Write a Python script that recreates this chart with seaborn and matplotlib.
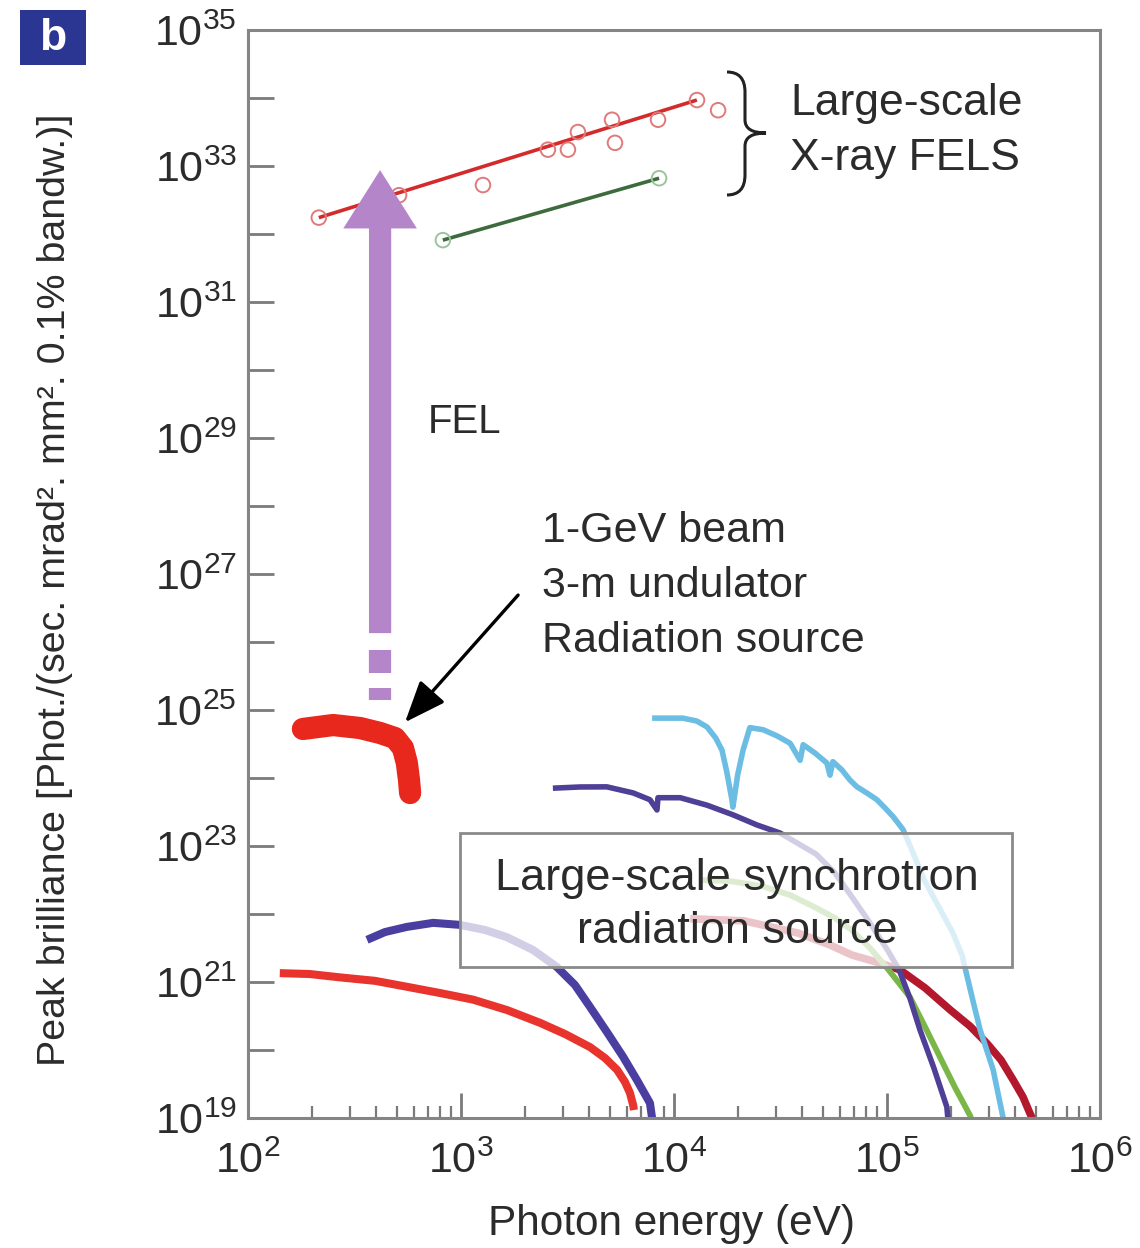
import numpy as np
import pandas as pd
import matplotlib
matplotlib.use("Agg")
import matplotlib.pyplot as plt
import seaborn as sns
from matplotlib.patches import Rectangle, PathPatch
from matplotlib.path import Path
from matplotlib.ticker import FixedLocator, FuncFormatter, NullLocator, LogLocator, NullFormatter

# ---------------- data (photon energy in eV, peak brilliance) ----------------
fel_line_x = [215, 12800]
fel_line_y = [1.74e32, 9.33e33]
fel_pts_x = [215, 512, 1268, 2559, 3177, 3540, 5117, 5284, 8414, 12823, 16106]
fel_pts_y = [1.74e32, 3.72e32, 5.25e32, 1.74e33, 1.74e33, 3.16e33, 4.79e33, 2.19e33, 4.79e33, 9.33e33, 6.61e33]

fel2_x = [822, 8511]
fel2_y = [8.13e31, 6.61e32]

und_x = [181, 251, 336, 417, 490, 534, 557, 570, 577]
und_y = [5.26e24, 6.01e24, 5.43e24, 4.59e24, 3.87e24, 2.76e24, 1.66e24, 9.35e23, 6.01e23]

cyan_x = [7890, 11000, 12800, 14300, 15700, 16800, 17700, 18700, 18900, 19900, 21100, 22700,
          26200, 30500, 35100, 39100, 40400, 45900, 52200, 54000, 55700, 61500, 67000, 72300,
          80500, 89700, 97900, 107000, 119000, 132000, 149000, 173000, 204000, 225000, 240000,
          256000, 274000, 315000, 351000]
cyan_y = [7.59e24, 7.59e24, 6.88e24, 5.62e24, 3.87e24, 2.57e24, 1.22e24, 4.79e23, 3.72e23,
          1.11e24, 2.57e24, 5.50e24, 5.13e24, 4.15e24, 3.24e24, 1.82e24, 3.09e24, 2.33e24,
          1.66e24, 1.10e24, 1.74e24, 1.31e24, 9.33e23, 7.41e23, 6.01e23, 4.79e23, 3.62e23,
          2.69e23, 1.74e23, 8.17e22, 3.24e22, 1.36e22, 5.25e21, 2.49e21, 1.07e21, 4.59e20,
          1.95e20, 5.13e19, 1.0e19]

purple_x = [2700, 3620, 4840, 6430, 7710, 8320, 8410, 10700, 14300, 18900, 24500, 31500, 46500,
            57000, 68500, 83200, 101000, 114000, 128000, 143000, 166000, 191000, 193000]
purple_y = [7.08e23, 7.38e23, 7.41e23, 6.03e23, 4.79e23, 3.39e23, 5.13e23, 5.13e23, 3.98e23,
            2.88e23, 2.04e23, 1.55e23, 7.59e22, 4.01e22, 1.78e22, 7.38e21, 2.88e21, 1.51e21,
            5.82e20, 1.95e20, 5.43e19, 1.45e19, 1.0e19]

green_x = [13200, 18300, 25900, 35100, 46500, 57000, 68500, 83200, 101000, 128000, 151000,
           177000, 208000, 245000, 248000]
green_y = [3.16e22, 3.05e22, 2.57e22, 1.90e22, 1.23e22, 8.73e21, 5.75e21, 3.16e21, 1.55e21,
           6.03e20, 2.18e20, 7.94e19, 2.86e19, 1.10e19, 1.0e19]

dred_x = [11900, 21300, 38200, 54000, 68500, 92700, 115000, 151000, 198000, 245000, 294000,
          343000, 391000, 435000, 469000, 480000]
dred_y = [8.51e21, 7.94e21, 5.25e21, 3.50e21, 2.49e21, 1.90e21, 1.51e21, 8.17e20, 3.89e20,
          2.25e20, 1.26e20, 7.13e19, 3.63e19, 2.04e19, 1.17e19, 1.0e19]

lred_x = [141, 195, 270, 395, 557, 796, 1140, 1644, 2350, 3076, 4040, 4742, 5400, 5888, 6210,
          6430, 6486]
lred_y = [1.35e21, 1.31e21, 1.17e21, 1.04e21, 8.51e20, 6.89e20, 5.50e20, 3.87e20, 2.51e20,
          1.72e20, 1.10e20, 7.62e19, 5.13e19, 3.38e19, 2.34e19, 1.55e19, 1.31e19]

lblue_x = [362, 440, 557, 740, 989, 1297, 1640, 2178, 2820, 3428, 4040, 4841, 5770, 6696,
           7710, 7890]
lblue_y = [4.17e21, 5.43e21, 6.46e21, 7.41e21, 6.92e21, 5.82e21, 4.57e21, 2.96e21, 1.66e21,
           9.04e20, 4.27e20, 1.84e20, 7.94e19, 3.62e19, 1.66e19, 1.0e19]

fel_arrow_x = 417
fel_arrow_y = [1.35e26, 8.7e32]
fel_dashes_y = [(7.6e25, 3.47e25), (2.09e25, 1.41e25)]

pointer_from = (1854, 4.9e26)
pointer_to = (546, 6.6e24)

x_ticks = [1e2, 1e3, 1e4, 1e5, 1e6]
y_exps = list(range(19, 36))

# ---------------- style ----------------
sns.set_style("white")
plt.rcParams["font.family"] = ["Liberation Sans", "DejaVu Sans"]
plt.rcParams["mathtext.default"] = "regular"
TXT = "#2b2b2b"

W, H = 1140, 1248
L, R, T, B = 248, 1100, 30, 1118
fig = plt.figure(figsize=(W / 100, H / 100), dpi=100)
ax = fig.add_axes([L / W, 1 - B / H, (R - L) / W, (B - T) / H])
ax.set_xscale("log")
ax.set_yscale("log")
ax.set_xlim(1e2, 1e6)
ax.set_ylim(1e19, 1e35)


def axf(px, py):
    return ((px - L) / (R - L), (B - py) / (B - T))


def figf(px, py):
    return (px / W, 1 - py / H)


def line(x, y, color, lw, z=2, alpha=1.0, cap="butt"):
    sns.lineplot(x=x, y=y, ax=ax, color=color, linewidth=lw, sort=False,
                 estimator=None, zorder=z, alpha=alpha, solid_capstyle=cap,
                 solid_joinstyle="round")


# synchrotron curves
line(lred_x, lred_y, "#e8342c", 5.8)
line(lblue_x, lblue_y, "#4a3fa0", 5.8)
line(dred_x, dred_y, "#b3182d", 5.5)
line(green_x, green_y, "#7ab648", 4.2)
line(purple_x, purple_y, "#4f3f96", 4.0)
line(cyan_x, cyan_y, "#6cbde3", 4.0)

# semi-transparent labelled box
bx0, by0 = axf(460, 967)
bx1, by1 = axf(1012, 833)
ax.add_patch(Rectangle((bx0, by0), bx1 - bx0, by1 - by0, transform=ax.transAxes,
                       facecolor="white", alpha=0.75, edgecolor="none", zorder=3))
ax.add_patch(Rectangle((bx0, by0), bx1 - bx0, by1 - by0, transform=ax.transAxes,
                       facecolor="none", edgecolor="#8a8a8a", linewidth=2, zorder=3.1))
ax.text(*axf(737, 905), "Large-scale synchrotron\nradiation source", transform=ax.transAxes,
        ha="center", va="center", multialignment="center", fontsize=32.5, color=TXT,
        linespacing=1.38, zorder=4)

# X-ray FEL lines
line(fel_line_x, fel_line_y, "#d42a2a", 2.6, z=5)
sns.scatterplot(x=fel_pts_x, y=fel_pts_y, ax=ax, marker="o", s=110, facecolor="none",
                edgecolor="#e07a7a", linewidth=1.4, zorder=5)
line(fel2_x, fel2_y, "#3d6b3d", 2.6, z=5)
sns.scatterplot(x=fel2_x, y=fel2_y, ax=ax, marker="o", s=110, facecolor="none",
                edgecolor="#9cc49c", linewidth=1.4, zorder=5)

# 1-GeV undulator source
sns.lineplot(x=und_x, y=und_y, ax=ax, color="#e8281c", linewidth=16, sort=False,
             estimator=None, zorder=6, solid_capstyle="round", solid_joinstyle="round")

# FEL purple arrow
PURP = "#b585ca"
ax.annotate("", xy=(fel_arrow_x, fel_arrow_y[1]), xytext=(fel_arrow_x, fel_arrow_y[0]),
            arrowprops=dict(arrowstyle="simple,head_length=2.1,head_width=2.65,tail_width=0.8",
                            mutation_scale=20, color=PURP, lw=0, shrinkA=0, shrinkB=0),
            zorder=7)
for y0, y1 in fel_dashes_y:
    ax.plot([fel_arrow_x, fel_arrow_x], [y0, y1], color=PURP, linewidth=16,
            solid_capstyle="butt", zorder=7)

# pointer arrow
ax.annotate("", xy=pointer_to, xytext=pointer_from,
            arrowprops=dict(arrowstyle="-|>,head_length=0.75,head_width=0.3",
                            mutation_scale=34, color="black", lw=2.4, shrinkA=0, shrinkB=0),
            zorder=7)

# texts
ax.text(*axf(790, 131), "Large-scale\nX-ray FELS", transform=ax.transAxes, ha="left",
        va="center", fontsize=32, color=TXT, linespacing=1.42)
ax.text(*axf(428, 422), "FEL", transform=ax.transAxes, ha="left", va="center",
        fontsize=29, color=TXT)
ax.text(*axf(542, 586), "1-GeV beam\n3-m undulator\nRadiation source", transform=ax.transAxes,
        ha="left", va="center", fontsize=31, color=TXT, linespacing=1.47)

# brace
bp = [(727, 72), (745, 72), (745, 92), (745, 120), (745, 133), (766, 133),
      (745, 133), (745, 146), (745, 175), (745, 195), (727, 195)]
codes = [Path.MOVETO, Path.CURVE3, Path.CURVE3, Path.LINETO, Path.CURVE3, Path.CURVE3,
         Path.CURVE3, Path.CURVE3, Path.LINETO, Path.CURVE3, Path.CURVE3]
fig.add_artist(PathPatch(Path([figf(*p) for p in bp], codes), transform=fig.transFigure,
                         facecolor="none", edgecolor="#222", linewidth=2.2))

# panel label
fx0, fy0 = figf(20, 65)
fx1, fy1 = figf(86, 10)
fig.add_artist(Rectangle((fx0, fy0), fx1 - fx0, fy1 - fy0, transform=fig.transFigure,
                         facecolor="#2b3592", edgecolor="none"))
fig.text(*figf(53, 39), "b", ha="center", va="center", fontsize=32, fontweight="bold",
         color="white")

# axes, ticks
ax.xaxis.set_major_locator(FixedLocator(x_ticks))
ax.xaxis.set_major_formatter(FuncFormatter(lambda v, p: "$10^{%d}$" % round(np.log10(v))))
ax.xaxis.set_minor_locator(LogLocator(base=10, subs=np.arange(2, 10), numticks=20))
ax.xaxis.set_minor_formatter(NullFormatter())
ax.yaxis.set_major_locator(FixedLocator([10.0 ** e for e in y_exps]))
ax.yaxis.set_major_formatter(FuncFormatter(
    lambda v, p: ("$10^{%d}$" % round(np.log10(v))) if round(np.log10(v)) % 2 == 1 else ""))
ax.yaxis.set_minor_locator(NullLocator())

ax.tick_params(axis="y", which="major", direction="in", length=19, width=2, color="#7a7a7a",
               pad=8, labelsize=31, labelcolor=TXT, right=False, left=True)
ax.tick_params(axis="x", which="major", direction="in", length=18, width=2, color="#7a7a7a",
               pad=17, labelsize=31, labelcolor=TXT, top=False, bottom=True)
ax.tick_params(axis="x", which="minor", direction="in", length=9, width=1.6, color="#7a7a7a",
               top=False, bottom=True)
for s in ax.spines.values():
    s.set_visible(True)
    s.set_color("#858585")
    s.set_linewidth(2.2)

ax.set_xlabel("Photon energy (eV)", fontsize=30.5, color=TXT)
ax.set_ylabel("Peak brilliance [Phot./(sec. mrad². mm². 0.1% bandw.)]", fontsize=28.4, color=TXT)
ax.xaxis.label.set_va("center")
ax.yaxis.label.set_va("center")
ax.xaxis.set_label_coords(*axf(672, 1224))
ax.yaxis.set_label_coords(*axf(55, 590))

fig.savefig("out.png", dpi=100)
